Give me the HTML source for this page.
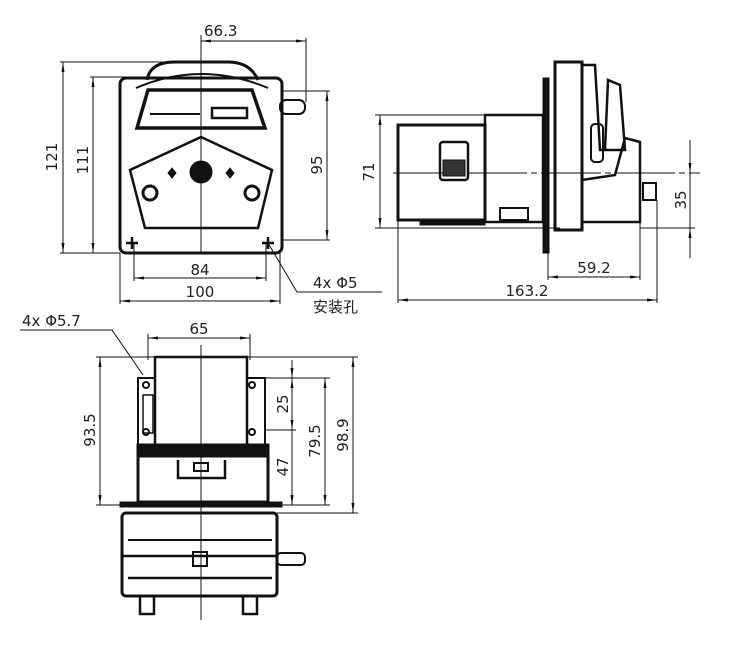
<!DOCTYPE html>
<html><head><meta charset="utf-8"><style>
html,body{margin:0;padding:0;background:#fff;}
svg{display:block;}
text{font-family:"DejaVu Sans","Liberation Sans","Noto Sans CJK SC",sans-serif;font-size:15px;fill:#222;}
</style></head><body>
<svg width="747" height="651" viewBox="0 0 747 651" xmlns="http://www.w3.org/2000/svg">
<defs>
<marker id="a" viewBox="0 0 10 6" refX="10" refY="3" markerWidth="10" markerHeight="6" orient="auto-start-reverse"><path d="M0,1.5 L10,3 L0,4.5z" fill="#111"/></marker>
</defs>
<g stroke="#111" fill="none" stroke-width="1">
<!-- FRONT VIEW -->
<line x1="201" y1="35" x2="201" y2="253"/>
<rect x="120" y="78" width="162" height="175" rx="6" stroke-width="3"/>
<path d="M147,80 Q150,62 175,62 L228,62 Q250,62 258,80" stroke-width="3"/>
<path d="M136,88 Q201,60 268,88" stroke-width="2"/>
<path d="M148,90 L252,90 L265,128 L137,128 Z" stroke-width="3.5"/>
<line x1="150" y1="114" x2="200" y2="114" stroke-width="2"/>
<rect x="212" y="108" width="35" height="10" stroke-width="2.5"/>
<rect x="280" y="100" width="25" height="14" rx="6" stroke-width="2"/>
<path d="M201,137 L272,170 L258,228 L145,228 L130,170 Z" stroke-width="2.5"/>
<circle cx="201" cy="172" r="11" fill="#111"/>
<path d="M172,168 L176,173 L172,178 L168,173Z M230,168 L234,173 L230,178 L226,173Z" fill="#111"/>
<circle cx="150" cy="193" r="7" stroke-width="3"/>
<circle cx="252" cy="193" r="7" stroke-width="3"/>
<path d="M126,243 H138 M132,237 V249 M262,243 H274 M268,237 V249" stroke-width="2.5"/>
<!-- front dims -->
<line x1="60" y1="62" x2="170" y2="62"/><line x1="60" y1="253" x2="120" y2="253"/>
<line x1="63" y1="62" x2="63" y2="253" marker-start="url(#a)" marker-end="url(#a)"/>
<line x1="90" y1="77" x2="140" y2="77"/>
<line x1="93" y1="77" x2="93" y2="253" marker-start="url(#a)" marker-end="url(#a)"/>
<line x1="282" y1="91" x2="330" y2="91"/><line x1="282" y1="240" x2="330" y2="240"/>
<line x1="327" y1="91" x2="327" y2="240" marker-start="url(#a)" marker-end="url(#a)"/>
<line x1="306" y1="38" x2="306" y2="102"/>
<line x1="201" y1="41" x2="306" y2="41" marker-start="url(#a)" marker-end="url(#a)"/>
<line x1="134" y1="243" x2="134" y2="281"/><line x1="266" y1="243" x2="266" y2="281"/>
<line x1="134" y1="278" x2="266" y2="278" marker-start="url(#a)" marker-end="url(#a)"/>
<line x1="120" y1="253" x2="120" y2="304"/><line x1="280" y1="253" x2="280" y2="304"/>
<line x1="120" y1="301" x2="280" y2="301" marker-start="url(#a)" marker-end="url(#a)"/>
<polyline points="268,243 297,292 382,292"/>
<!-- SIDE VIEW -->
<line x1="393" y1="173" x2="700" y2="173" stroke-dasharray="60,4,6,4"/>
<rect x="398" y="125" width="87" height="95" stroke-width="3"/>
<rect x="440" y="142" width="28" height="38" rx="3" stroke-width="2.5"/>
<rect x="443" y="160" width="22" height="16" fill="#333"/>
<rect x="485" y="115" width="58" height="107" stroke-width="2.5"/>
<rect x="420" y="220" width="65" height="5" fill="#111"/>
<rect x="500" y="208" width="28" height="12" stroke-width="2"/>
<rect x="543" y="78" width="6" height="175" fill="#111"/>
<rect x="555" y="62" width="27" height="168" stroke-width="3"/>
<path d="M582,65 L595,65 L600,150 L625,150 L620,85 L608,80 L605,150" stroke-width="2.5"/>
<rect x="591" y="124" width="12" height="38" rx="4" stroke-width="2"/>
<path d="M582,180 L615,175 L625,138 L640,142 L640,222 L582,222 Z" stroke-width="2.5"/>
<rect x="643" y="183" width="13" height="17" stroke-width="2"/>
<line x1="375" y1="115" x2="485" y2="115"/><line x1="375" y1="228" x2="560" y2="228"/>
<line x1="380" y1="115" x2="380" y2="228" marker-start="url(#a)" marker-end="url(#a)"/>
<line x1="640" y1="228" x2="695" y2="228"/>
<line x1="690" y1="140" x2="690" y2="173" marker-end="url(#a)"/>
<line x1="690" y1="258" x2="690" y2="228" marker-end="url(#a)"/>
<line x1="690" y1="173" x2="690" y2="228"/>
<line x1="548" y1="253" x2="548" y2="280"/><line x1="640" y1="222" x2="640" y2="280"/>
<line x1="548" y1="277" x2="640" y2="277" marker-start="url(#a)" marker-end="url(#a)"/>
<line x1="398" y1="220" x2="398" y2="303"/><line x1="657" y1="200" x2="657" y2="303"/>
<line x1="398" y1="300" x2="657" y2="300" marker-start="url(#a)" marker-end="url(#a)"/>
<!-- BOTTOM VIEW -->
<line x1="201" y1="345" x2="201" y2="620"/>
<rect x="155" y="357" width="92" height="88" stroke-width="2.5"/>
<path d="M138,445 V378 H155 M247,378 H265 V445" stroke-width="2"/>
<rect x="143" y="395" width="10" height="38" stroke-width="1.5"/>
<circle cx="146" cy="385" r="3" stroke-width="2"/><circle cx="252" cy="385" r="3" stroke-width="2"/>
<circle cx="146" cy="432" r="3" stroke-width="2"/><circle cx="252" cy="432" r="3" stroke-width="2"/>
<rect x="138" y="445" width="130" height="57" stroke-width="3"/>
<rect x="138" y="445" width="130" height="12" fill="#111"/>
<path d="M178,460 V478 H225 V460" stroke-width="2.5"/>
<rect x="194" y="463" width="14" height="8" stroke-width="2"/>
<rect x="120" y="502" width="162" height="5" fill="#111"/>
<rect x="122" y="513" width="155" height="83" rx="4" stroke-width="3"/>
<line x1="128" y1="540" x2="272" y2="540" stroke-width="2"/>
<line x1="122" y1="556" x2="277" y2="556" stroke-width="2.5"/>
<line x1="128" y1="578" x2="272" y2="578" stroke-width="2.5"/>
<rect x="193" y="552" width="14" height="14" stroke-width="2"/>
<rect x="277" y="553" width="28" height="12" rx="4" stroke-width="2"/>
<rect x="140" y="596" width="14" height="18" stroke-width="2.5"/>
<rect x="243" y="596" width="14" height="18" stroke-width="2.5"/>
<line x1="148" y1="334" x2="148" y2="360"/><line x1="250" y1="334" x2="250" y2="360"/>
<line x1="148" y1="338" x2="250" y2="338" marker-start="url(#a)" marker-end="url(#a)"/>
<line x1="96" y1="357" x2="155" y2="357"/><line x1="96" y1="505" x2="120" y2="505"/>
<line x1="100" y1="357" x2="100" y2="505" marker-start="url(#a)" marker-end="url(#a)"/>
<line x1="247" y1="357" x2="358" y2="357"/>
<line x1="265" y1="378" x2="330" y2="378"/>
<line x1="265" y1="430" x2="296" y2="430"/>
<line x1="282" y1="505" x2="330" y2="505"/>
<line x1="277" y1="513" x2="358" y2="513"/>
<line x1="292" y1="360" x2="292" y2="378" marker-end="url(#a)"/>
<line x1="292" y1="378" x2="292" y2="430" marker-start="url(#a)" marker-end="url(#a)"/>
<line x1="292" y1="430" x2="292" y2="505" marker-end="url(#a)"/>
<line x1="325" y1="378" x2="325" y2="505" marker-start="url(#a)" marker-end="url(#a)"/>
<line x1="353" y1="357" x2="353" y2="513" marker-start="url(#a)" marker-end="url(#a)"/>
<polyline points="20,330 112,330 143,375"/>
</g>
<g>
<text x="204" y="36">66.3</text>
<text transform="translate(57,157) rotate(-90)" text-anchor="middle">121</text>
<text transform="translate(88,160) rotate(-90)" text-anchor="middle">111</text>
<text transform="translate(322,165) rotate(-90)" text-anchor="middle">95</text>
<text x="200" y="275" text-anchor="middle">84</text>
<text x="200" y="297" text-anchor="middle">100</text>
<text x="313" y="288">4x Φ5</text>
<text x="313" y="312">安装孔</text>
<text transform="translate(374,172) rotate(-90)" text-anchor="middle">71</text>
<text transform="translate(686,200) rotate(-90)" text-anchor="middle">35</text>
<text x="594" y="273" text-anchor="middle">59.2</text>
<text x="527" y="296" text-anchor="middle">163.2</text>
<text x="22" y="326">4x Φ5.7</text>
<text x="199" y="334" text-anchor="middle">65</text>
<text transform="translate(95,430) rotate(-90)" text-anchor="middle">93.5</text>
<text transform="translate(288,404) rotate(-90)" text-anchor="middle">25</text>
<text transform="translate(288,467) rotate(-90)" text-anchor="middle">47</text>
<text transform="translate(320,441) rotate(-90)" text-anchor="middle">79.5</text>
<text transform="translate(348,435) rotate(-90)" text-anchor="middle">98.9</text>
</g>
</svg>
</body></html>
